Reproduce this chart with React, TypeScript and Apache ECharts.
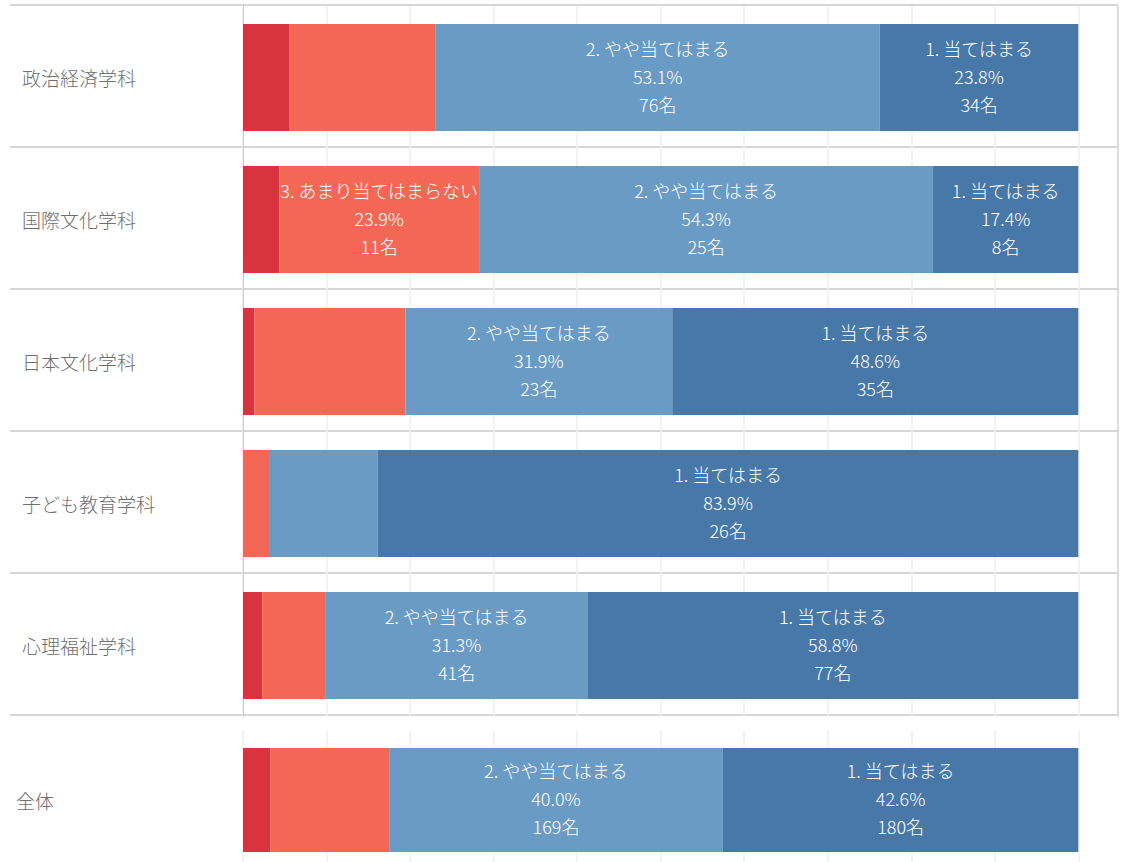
import React, { useEffect, useRef } from "react";
import * as echarts from "echarts";

const departments = ["政治経済学科", "国際文化学科", "日本文化学科", "子ども教育学科", "心理福祉学科"];
const totalLabel = ["全体"];
const answerNames = ["4. 当てはまらない", "3. あまり当てはまらない", "2. やや当てはまる", "1. 当てはまる"];
const answerColors = ["#DA3340", "#F26855", "#6A9BC4", "#4878A7"];

// counts per department, in answer order 4,3,2,1
const count4 = [8, 2, 1, 0, 3];
const count3 = [25, 11, 13, 1, 10];
const count2 = [76, 25, 23, 4, 41];
const count1 = [34, 8, 35, 26, 77];

const totalCounts = [14, 60, 169, 180];

const xTicks = { min: 0, max: 1.0475, interval: 0.1 };
const FONT = "'Noto Sans CJK JP', 'Noto Sans', sans-serif";
const PLOT_WIDTH = 875;
const LABEL_SIZE = 18;

export default function App() {
  const ref = useRef<HTMLDivElement>(null);

  useEffect(() => {
    if (!ref.current) return;
    const chart = echarts.init(ref.current, undefined, { renderer: "svg" });

    const deptCounts = [count4, count3, count2, count1];
    const deptTotals = departments.map((_, i) => deptCounts.reduce((s, arr) => s + arr[i], 0));
    const grandTotal = totalCounts.reduce((s, v) => s + v, 0);

    const canvas = document.createElement("canvas");
    const ctx = canvas.getContext("2d");
    const measure = (t: string) => {
      if (!ctx) return t.length * LABEL_SIZE;
      ctx.font = `300 ${LABEL_SIZE}px ${FONT}`;
      return ctx.measureText(t).width;
    };
    const pxPerUnit = PLOT_WIDTH / xTicks.max;

    const labelCfg = {
      show: true,
      position: "inside",
      color: "#ffffff",
      fontSize: LABEL_SIZE,
      fontWeight: 300,
      lineHeight: 28,
      fontFamily: FONT,
      offset: [0, -2],
      formatter: (p: any) => {
        const pct = p.value as number;
        const lines = [p.seriesName, `${(pct * 100).toFixed(1)}%`, `${p.data.count}名`];
        const need = Math.max(...lines.map(measure)) * 0.9;
        if (pct * pxPerUnit < need) return "";
        return lines.join("\n");
      },
    };

    const topSeries = answerNames.map((name, k) => ({
      type: "bar",
      name,
      stack: "top",
      xAxisIndex: 0,
      yAxisIndex: 0,
      barWidth: 107,
      itemStyle: { color: answerColors[k] },
      label: labelCfg,
      data: departments.map((_, i) => ({
        value: deptCounts[k][i] / deptTotals[i],
        count: deptCounts[k][i],
      })),
    }));

    const bottomSeries = answerNames.map((name, k) => ({
      type: "bar",
      name,
      stack: "bottom",
      xAxisIndex: 1,
      yAxisIndex: 1,
      barWidth: 104,
      itemStyle: { color: answerColors[k] },
      label: labelCfg,
      data: [{ value: totalCounts[k] / grandTotal, count: totalCounts[k] }],
    }));

    const valueAxis = (gridIndex: number) => ({
      type: "value",
      gridIndex,
      min: xTicks.min,
      max: xTicks.max,
      interval: xTicks.interval,
      axisLabel: { show: false },
      axisLine: { show: false },
      axisTick: { show: false },
      splitLine: {
        show: true,
        showMaxLine: false,
        lineStyle: { color: "#efefef", width: 1.5 },
      },
    });

    const rowLabel = (margin: number) => ({
      align: "left",
      margin,
      fontSize: 19,
      fontWeight: 300,
      color: "#6e6e6e",
      fontFamily: FONT,
    });

    chart.setOption({
      animation: false,
      backgroundColor: "#ffffff",
      grid: [
        { left: 243, top: 6.5, width: PLOT_WIDTH, height: 710 },
        { left: 243, top: 730, width: PLOT_WIDTH, height: 140 },
        { left: 10, top: 5, width: 1108, height: 710 },
      ],
      xAxis: [
        valueAxis(0),
        valueAxis(1),
        { type: "value", gridIndex: 2, min: 0, max: 1, show: false },
      ],
      yAxis: [
        {
          type: "category",
          gridIndex: 0,
          data: departments,
          inverse: true,
          axisLine: { show: true, lineStyle: { color: "#c8c8c8", width: 1 } },
          axisTick: { show: false },
          splitLine: { show: false },
          axisLabel: rowLabel(221),
        },
        {
          type: "category",
          gridIndex: 1,
          data: totalLabel,
          inverse: true,
          axisLine: { show: false },
          axisTick: { show: false },
          splitLine: { show: false },
          axisLabel: rowLabel(227),
        },
        {
          type: "category",
          gridIndex: 2,
          data: departments,
          inverse: true,
          axisLine: { show: false },
          axisTick: { show: false },
          axisLabel: { show: false },
          splitLine: { show: true, lineStyle: { color: "#d6d6d6", width: 2 } },
        },
        {
          type: "category",
          gridIndex: 0,
          position: "right",
          data: departments,
          inverse: true,
          axisLine: { show: true, lineStyle: { color: "#d0d0d0", width: 1.5 } },
          axisTick: { show: false },
          axisLabel: { show: false },
          splitLine: { show: false },
        },
      ],
      series: [...topSeries, ...bottomSeries],
    });

    return () => chart.dispose();
  }, []);

  return (
    <div
      ref={ref}
      style={{ position: "fixed", left: 0, top: 0, width: "1123px", height: "900px" }}
    />
  );
}
